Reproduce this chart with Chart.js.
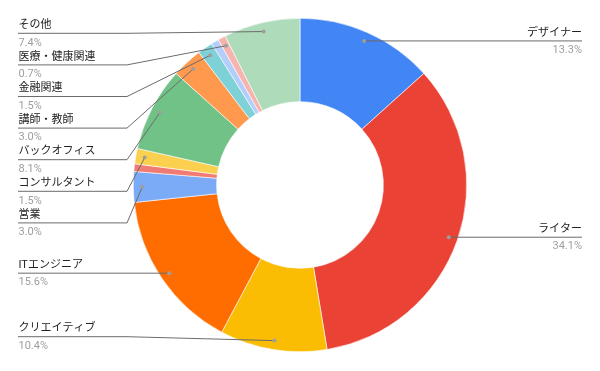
<!DOCTYPE html>
<html>
<head>
<meta charset="utf-8">
<script src="https://cdn.jsdelivr.net/npm/chart.js@4/dist/chart.umd.min.js"></script>
<style>
html,body{margin:0;padding:0;background:#fff;}
#wrap{width:600px;height:371px;}
</style>
</head>
<body>
<div id="wrap"><canvas id="c" width="600" height="371"></canvas></div>
<script>
// Categories (clockwise from top). Two tiny slices have no visible label in the reference.
const categories = ["デザイナー","ライター","クリエイティブ","ITエンジニア","営業","","コンサルタント","バックオフィス","講師・教師","金融関連","","医療・健康関連","その他"];
const counts = [18,46,14,21,4,1,2,11,4,2,1,1,10];
const sliceColors = ["#4285f4","#ea4335","#fbbc04","#ff6d01","#7baaf7","#f07b72","#fcd04f","#71c287","#ff994d","#7ed1d7","#b3cefb","#f7b4ae","#aedcba"];

const FONT = "Roboto, 'Noto Sans CJK JP', 'Noto Sans', sans-serif";

const labelPlugin = {
  id: 'leaderLabels',
  afterDraw(chart) {
    const ctx = chart.ctx;
    const meta = chart.getDatasetMeta(0);
    const data = chart.data.datasets[0].data;
    const total = data.reduce((a, b) => a + b, 0);
    const W = chart.width;
    const leftX = 18, rightX = W - 18;
    const elbowL = 127, gap = 31.6, minTop = 33.3, maxBottom = 336.7;
    const items = [];
    meta.data.forEach((arc, i) => {
      const name = chart.data.labels[i];
      if (!name) return;
      const p = arc.getProps(['x','y','startAngle','endAngle','outerRadius','innerRadius'], true);
      const mid = (p.startAngle + p.endAngle) / 2;
      const r = p.outerRadius * 0.946;
      const dx = p.x + Math.cos(mid) * r;
      const dy = p.y + Math.sin(mid) * r;
      items.push({name, pct: (data[i] / total * 100).toFixed(1) + '%', dx, dy, left: dx < p.x});
    });
    const lefts = items.filter(o => o.left).sort((a, b) => a.dy - b.dy);
    const rights = items.filter(o => !o.left).sort((a, b) => a.dy - b.dy);
    let prev = -Infinity;
    lefts.forEach(o => { o.ly = Math.max(o.dy, prev + gap, minTop); prev = o.ly; });
    for (let k = lefts.length - 1; k >= 0; k--) {
      const lim = k === lefts.length - 1 ? maxBottom : lefts[k + 1].ly - gap;
      if (lefts[k].ly > lim) lefts[k].ly = lim;
    }
    rights.forEach(o => { o.ly = o.dy; });
    ctx.save();
    ctx.lineWidth = 1;
    items.forEach(o => {
      ctx.strokeStyle = '#6b6b6b';
      ctx.beginPath();
      ctx.moveTo(o.dx, o.dy);
      if (o.left) {
        ctx.lineTo(Math.min(elbowL, o.dx), o.ly);
        ctx.lineTo(leftX, o.ly);
      } else {
        ctx.lineTo(rightX, o.ly);
      }
      ctx.stroke();
      ctx.fillStyle = '#9e9e9e';
      ctx.beginPath();
      ctx.arc(o.dx, o.dy, 2, 0, Math.PI * 2);
      ctx.fill();
      ctx.font = '11px ' + FONT;
      ctx.textBaseline = 'middle';
      ctx.textAlign = o.left ? 'left' : 'right';
      const tx = o.left ? leftX + 0.5 : rightX;
      ctx.fillStyle = '#222222';
      ctx.fillText(o.name, tx, o.ly - 8);
      ctx.fillStyle = '#9e9e9e';
      ctx.fillText(o.pct, tx, o.ly + 9.5);
    });
    ctx.restore();
  }
};

new Chart(document.getElementById('c'), {
  type: 'doughnut',
  data: {
    labels: categories,
    datasets: [{
      data: counts,
      backgroundColor: sliceColors,
      borderColor: '#ffffff',
      borderWidth: 0.6
    }]
  },
  options: {
    responsive: false,
    animation: false,
    cutout: '50%',
    layout: { padding: { top: 18, bottom: 19, left: 0, right: 0 } },
    plugins: { legend: { display: false }, tooltip: { enabled: false } }
  },
  plugins: [labelPlugin]
});
</script>
</body>
</html>
